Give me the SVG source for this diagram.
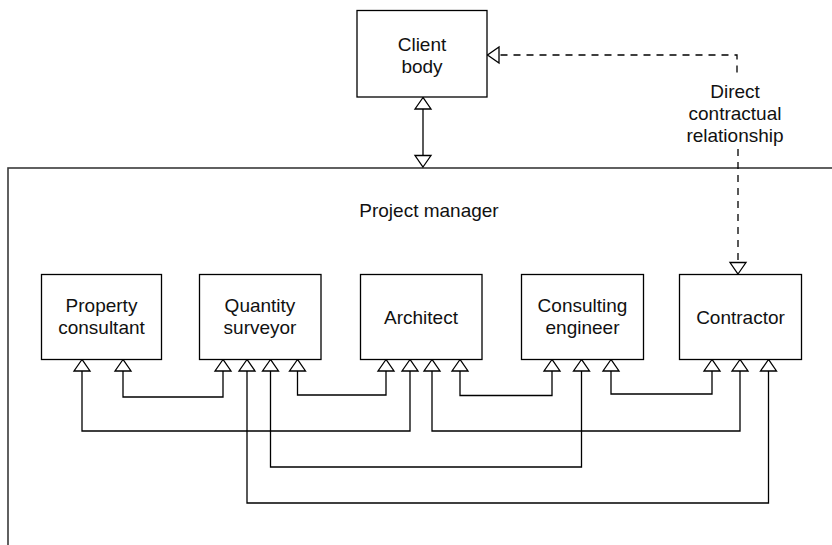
<svg xmlns="http://www.w3.org/2000/svg" width="832" height="545" viewBox="0 0 832 545">
  <style>
    .box { fill: #ffffff; stroke: #000000; stroke-width: 1.3; }
    .outer { fill: none; stroke: #3a3a3a; stroke-width: 1.6; }
    .lbl { font-family: "Liberation Sans", Arial, Helvetica, sans-serif; font-size: 19px; fill: #111111; text-anchor: middle; }
    .conn { fill: none; stroke: #000000; stroke-width: 1.3; marker-start: url(#tri); marker-end: url(#tri); }
    .dash { fill: none; stroke: #000000; stroke-width: 1.3; stroke-dasharray: 7 6; }
  </style>
  <defs>
    <marker id="tri" markerUnits="userSpaceOnUse" orient="auto-start-reverse" refX="0" refY="0" markerWidth="16" markerHeight="18" viewBox="-13 -9 14 18" overflow="visible">
      <path d="M0,0 L-11.5,-8 L-11.5,8 Z" fill="#ffffff" stroke="#000000" stroke-width="1.3" stroke-dasharray="none"/>
    </marker>
  </defs>

  <g id="project-manager">
    <rect class="outer" x="8" y="168" width="900" height="500"/>
    <text class="lbl" x="429" y="217">Project manager</text>
  </g>

  <g id="connectors">
    <path class="conn" d="M423,97.5 V167"/>
    <path class="dash" d="M487.5,55 H737 V77" marker-start="url(#tri)"/>
    <path class="dash" d="M738,149 V274" marker-end="url(#tri)"/>
    <path class="conn" d="M123,359.5 V397 H223 V359.5"/>
    <path class="conn" d="M297.5,359.5 V395 H386 V359.5"/>
    <path class="conn" d="M460,359.5 V395.5 H552 V359.5"/>
    <path class="conn" d="M611,359.5 V394 H712 V359.5"/>
    <path class="conn" d="M82,359.5 V431 H410 V359.5"/>
    <path class="conn" d="M432,359.5 V431 H740 V359.5"/>
    <path class="conn" d="M270.5,359.5 V467 H581.5 V359.5"/>
    <path class="conn" d="M247,359.5 V503 H768.5 V359.5"/>
  </g>

  <g id="contract-label">
    <text class="lbl" x="735" y="98">Direct</text>
    <text class="lbl" x="735" y="120">contractual</text>
    <text class="lbl" x="735" y="142">relationship</text>
  </g>

  <g id="client-body">
    <rect class="box" x="357" y="10.5" width="130" height="86.5"/>
    <text class="lbl" x="422" y="50.5">Client</text>
    <text class="lbl" x="422" y="73">body</text>
  </g>

  <g id="property-consultant">
    <rect class="box" x="41.5" y="274.5" width="120" height="85"/>
    <text class="lbl" x="101.5" y="312">Property</text>
    <text class="lbl" x="101.5" y="334">consultant</text>
  </g>

  <g id="quantity-surveyor">
    <rect class="box" x="199.5" y="274.5" width="121.5" height="85"/>
    <text class="lbl" x="260" y="312">Quantity</text>
    <text class="lbl" x="260" y="334">surveyor</text>
  </g>

  <g id="architect">
    <rect class="box" x="360.5" y="274.5" width="121.5" height="85"/>
    <text class="lbl" x="421" y="323.5">Architect</text>
  </g>

  <g id="consulting-engineer">
    <rect class="box" x="521.5" y="274.5" width="122" height="85"/>
    <text class="lbl" x="582.5" y="312">Consulting</text>
    <text class="lbl" x="582.5" y="334">engineer</text>
  </g>

  <g id="contractor">
    <rect class="box" x="679.5" y="274.5" width="122" height="85"/>
    <text class="lbl" x="740.5" y="323.5">Contractor</text>
  </g>
</svg>
